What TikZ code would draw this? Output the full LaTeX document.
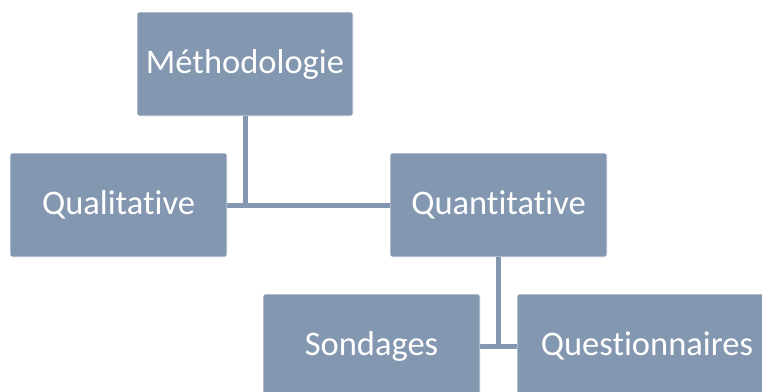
\documentclass[tikz,border=0pt]{standalone}
\usepackage{fontspec}
\setmainfont{Carlito}[Ligatures=NoCommon]
\usepackage{tikz}
\usetikzlibrary{calc}
\definecolor{boxgray}{HTML}{8497B0}
\tikzset{
  orgbox/.style={rectangle,rounded corners=2pt,fill=boxgray,draw=white,line width=0.8pt,
    text=white,font=\fontsize{34.5}{40}\selectfont,minimum height=104pt,inner sep=0pt},
  orgline/.style={draw=boxgray,line width=5pt}
}
\begin{document}
\begin{tikzpicture}[x=1pt,y=-1pt]
\useasboundingbox (0,0) rectangle (762,391);
\clip (0,0) rectangle (762,391);
%boxes
\node[orgbox,minimum width=216pt] (meth) at (245,64) {Méthodologie};
\node[orgbox,minimum width=217pt] (qual) at (118.5,205) {Qualitative};
\node[orgbox,minimum width=217pt] (quant) at (498.5,205) {Quantitative};
\node[orgbox,minimum width=217pt] (sond) at (371.5,346) {Sondages};
\node[orgbox,minimum width=260pt] (quest) at (647,346) {Questionnaires};
%connectors
\draw[orgline] (meth.south) -- (meth.south |- qual.east);
\draw[orgline] (qual.east) -- (quant.west);
\draw[orgline] (quant.south) -- (quant.south |- sond.east);
\draw[orgline] (sond.east) -- (quest.west);
\end{tikzpicture}
\end{document}
